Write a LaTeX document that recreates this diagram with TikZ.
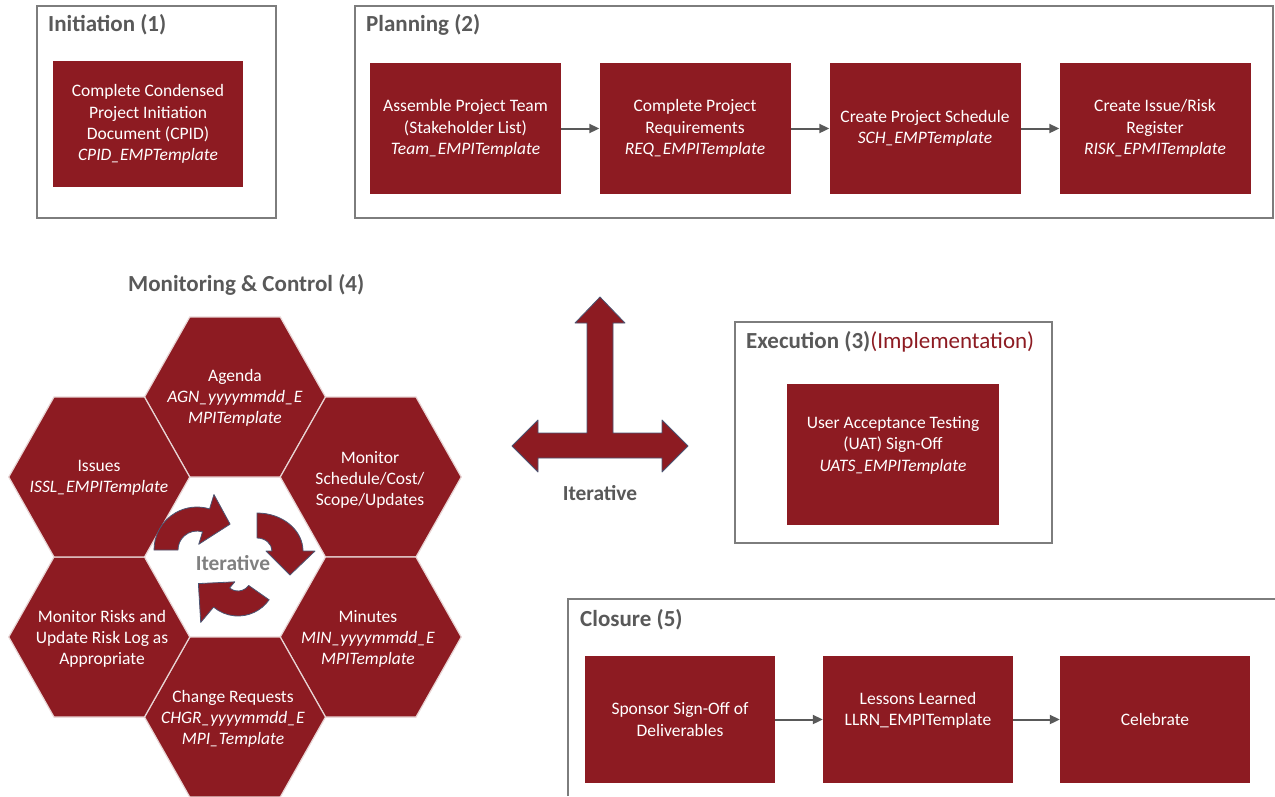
\documentclass[tikz,border=0pt]{standalone}
\usepackage{fontspec}
\setmainfont{Carlito}
\usetikzlibrary{arrows.meta}
\definecolor{mred}{RGB}{141,27,34}
\definecolor{tgray}{RGB}{89,89,89}
\definecolor{lgray}{RGB}{128,128,128}
\definecolor{fgray}{RGB}{125,125,125}
\definecolor{hexline}{RGB}{232,212,212}
\definecolor{aline}{RGB}{75,85,115}
\begin{document}
\begin{tikzpicture}[x=1pt,y=-1pt,
 frame/.style={draw=fgray, line width=1.2pt},
 title/.style={anchor=west, font=\fontsize{23}{27}\selectfont\bfseries, text=tgray, inner sep=0pt},
 redbox/.style={fill=mred, text=white, align=center, font=\fontsize{17.5}{21.3}\selectfont, inner sep=2pt},
 hextext/.style={text=white, align=center, font=\fontsize{17.5}{21.3}\selectfont, inner sep=0pt},
 flow/.style={draw=tgray, line width=2pt, -{Triangle[length=10pt,width=9pt]}},
 hex/.style={fill=mred, draw=hexline, line width=1.2pt},
 curarrow/.style={fill=mred, draw=aline, line width=0.8pt, line join=round},
 itlabel/.style={font=\fontsize{21.4}{25}\selectfont\bfseries, inner sep=0pt},
]
\useasboundingbox (0,0) rectangle (1275,796);
\fill[white] (0,0) rectangle (1275,796);

% ---------- Initiation ----------
\draw[frame] (37,6) rectangle (276,218);
\node[title] (tinit) at (48,25) {Initiation (1)};
\node[redbox, minimum width=190, minimum height=126] (cpid) at (148,124)
  {Complete Condensed\\Project Initiation\\Document (CPID)\\\textit{CPID\_EMPTemplate}};

% ---------- Planning ----------
\draw[frame] (355,6) rectangle (1273,218);
\node[title] (tplan) at (366,25) {Planning (2)};
\node[redbox, minimum width=191, minimum height=131] (p1) at (465.5,128.5)
  {Assemble Project Team\\(Stakeholder List)\\\textit{Team\_EMPITemplate}};
\node[redbox, minimum width=191, minimum height=131] (p2) at (695,128.5)
  {Complete Project\\Requirements\\\textit{REQ\_EMPITemplate}};
\node[redbox, minimum width=191, minimum height=131] (p3) at (925,128.5)
  {Create Project Schedule\\\textit{SCH\_EMPTemplate}};
\node[redbox, minimum width=191, minimum height=131] (p4) at (1155,128.5)
  {Create Issue/Risk\\Register\\\textit{RISK\_EPMITemplate}};
\draw[flow] (p1) -- (p2);
\draw[flow] (p2) -- (p3);
\draw[flow] (p3) -- (p4);

% ---------- Execution ----------
\draw[frame] (735,322) rectangle (1052,543);
\node[title] (texec) at (746,342) {Execution (3)\textcolor{mred}{\mdseries(Implementation)}};
\node[redbox, minimum width=212, minimum height=141] (uat) at (893,454.5)
  {User Acceptance Testing\\(UAT) Sign-Off\\\textit{UATS\_EMPITemplate}\\~};

% ---------- Closure ----------
\draw[frame] (568,796) -- (568,599) -- (1275,599);
\node[title] (tclos) at (580,620) {Closure (5)};
\node[redbox, minimum width=190, minimum height=127] (c1) at (680,719.5)
  {Sponsor Sign-Off of\\Deliverables};
\node[redbox, minimum width=190, minimum height=127] (c2) at (918,719.5)
  {Lessons Learned\\LLRN\_EMPITemplate\\~};
\node[redbox, minimum width=190, minimum height=127] (c3) at (1155,719.5)
  {Celebrate};
\draw[flow] (c1) -- (c2);
\draw[flow] (c2) -- (c3);

% ---------- Iterative T arrow ----------
\filldraw[curarrow] (600,297) -- (625,323) -- (613,323) -- (613,433) -- (662,433)
  -- (662,420) -- (688,446) -- (662,472) -- (662,458) -- (538,458) -- (538,472)
  -- (512,446) -- (538,420) -- (538,433) -- (587,433) -- (587,323) -- (575,323) -- cycle;
\node[itlabel, text=tgray] (itT) at (600,493) {Iterative};

% ---------- Monitoring & Control ----------
\node[title] (tmon) at (128,285) {Monitoring \& Control (4)};
\foreach \cx/\cy in {235/397, 370.75/477, 370.75/637, 235/717, 99.25/637, 99.25/477}{
  \filldraw[hex] ({\cx-90.5},{\cy}) -- ({\cx-45.25},{\cy-80}) -- ({\cx+45.25},{\cy-80})
    -- ({\cx+90.5},{\cy}) -- ({\cx+45.25},{\cy+80}) -- ({\cx-45.25},{\cy+80}) -- cycle;
}
\node[hextext] (hag) at (235,398) {Agenda\\\textit{AGN\_yyyymmdd\_E}\\\textit{MPITemplate}};
\node[hextext] (his) at (99,478) {Issues\\\textit{ISSL\_EMPITemplate}};
\node[hextext] (hms) at (370,480) {Monitor\\Schedule/Cost/\\Scope/Updates};
\node[hextext] (hmr) at (102,639) {Monitor Risks and\\Update Risk Log as\\Appropriate};
\node[hextext] (hmi) at (368,639) {Minutes\\\textit{MIN\_yyyymmdd\_E}\\\textit{MPITemplate}};
\node[hextext] (hcr) at (233,719) {Change Requests\\\textit{CHGR\_yyyymmdd\_E}\\\textit{MPI\_Template}};

% center curved arrows
\begin{scope}[shift={(197,550)}]
\filldraw[curarrow] (180:43) arc[start angle=180,end angle=287,radius=43] -- (287:58)
  -- (322:42) -- (287:6) -- (287:19) arc[start angle=287,end angle=180,radius=19] -- cycle;
\end{scope}
\begin{scope}[shift={(257,551)}]
\filldraw[curarrow] (0,-38) arc[start angle=270,end angle=360,x radius=46,y radius=38]
  -- (58,0) -- (33,24) -- (9,0) -- (15,0)
  arc[start angle=360,end angle=270,x radius=15,y radius=13] -- cycle;
\end{scope}
\begin{scope}[shift={(238,578)}]
\filldraw[curarrow] (35:38) arc[start angle=35,end angle=130,radius=38] -- (130:58)
  -- (172:40) -- (130:5) -- (130:13) arc[start angle=130,end angle=35,radius=13] -- cycle;
\end{scope}
\node[itlabel, text=lgray] (itC) at (233,563) {Iterative};
\end{tikzpicture}
\end{document}
